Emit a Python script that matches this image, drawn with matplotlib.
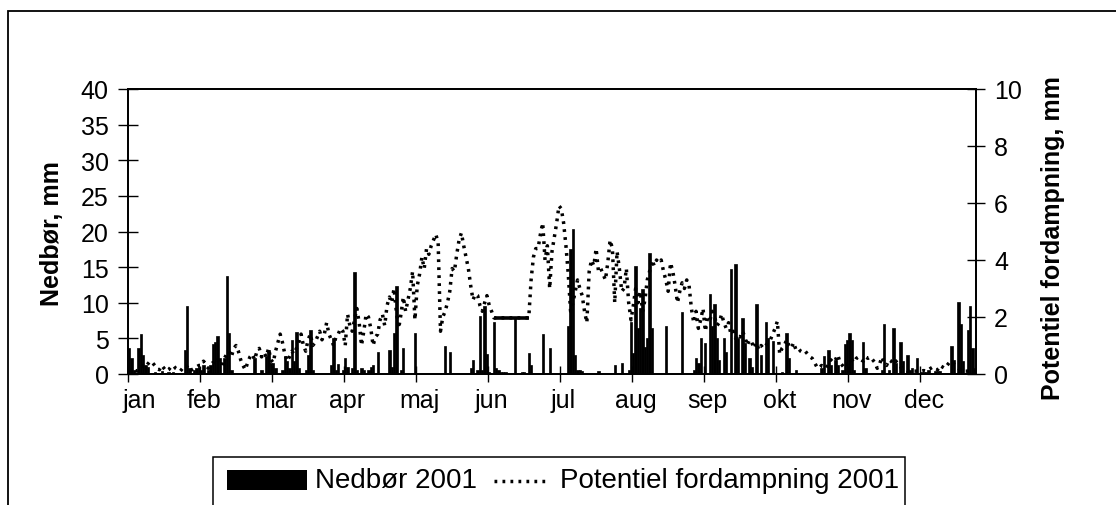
import numpy as np
import matplotlib
matplotlib.use("Agg")
import matplotlib.pyplot as plt
from matplotlib.patches import Rectangle
from matplotlib.lines import Line2D

plt.rcParams["font.family"] = ["Liberation Sans", "DejaVu Sans"]

months = ["jan", "feb", "mar", "apr", "maj", "jun",
          "jul", "aug", "sep", "okt", "nov", "dec"]

# daily precipitation 2001, mm
nedbor_jan = [3.7, 2.2, 0.6, 0, 3.7, 5.6, 2.6, 1.2, 1.0, 0,
              0, 0.3, 0, 0, 0.4, 0, 0, 0.3, 0.2, 0.3,
              0, 0, 0.2, 0, 3.4, 9.5, 0.8, 0, 0.5, 0.8, 1.0]
nedbor_feb = [0.5, 1.3, 0, 0.6, 1.2, 4.2, 4.5, 5.4, 2.2, 0,
              2.2, 13.7, 5.8, 0.5, 0, 0, 0, 0, 0, 0,
              0, 0, 0, 2.2, 0, 0, 0.5, 0]
nedbor_mar = [2.5, 3.4, 1.5, 1.5, 0.8, 0, 0, 0.5, 2.5, 1.8,
              0.8, 4.8, 1.8, 5.9, 0.8, 0, 0, 0.5, 2.7, 6.2,
              0.5, 0, 0, 0, 0, 0, 0, 0, 1.2, 5.1, 0.6]
nedbor_apr = [1.4, 0, 0.5, 2.3, 1.0, 0, 0.8, 14.3, 0.5, 0,
              0.9, 0.5, 0, 0.6, 1.0, 1.2, 0, 3.1, 0, 0,
              0, 0, 3.4, 1.0, 5.8, 12.3, 0, 0.5, 3.7, 0]
nedbor_maj = [0, 0, 0, 5.8, 0, 0, 0, 0, 0, 0,
              0, 0, 0, 0, 0, 0, 3.9, 0, 3.1, 0,
              0, 0, 0, 0, 0, 0, 0, 0.9, 2.0, 0, 0.5]
nedbor_jun = [8.2, 0.5, 9.5, 2.8, 0.3, 0, 7.3, 0.8, 0.5, 0.3,
              0.3, 0.3, 0, 0, 0, 7.9, 0, 0, 0.3, 0.3,
              0, 2.9, 1.3, 0, 0, 0, 0, 5.6, 0, 0]
nedbor_jul = [3.7, 0, 0, 0, 0, 0, 0, 0, 6.8, 17.6,
              20.4, 2.6, 0.6, 0.5, 0.4, 0, 0, 0, 0, 0,
              0, 0.4, 0, 0, 0, 0, 0, 0, 1.2, 0, 0]
nedbor_aug = [1.5, 0, 0, 0.5, 7.3, 3.0, 15.1, 6.5, 9.3, 12.0,
              3.8, 5.0, 17.0, 6.4, 0, 0, 0, 0, 0, 6.8,
              0, 0, 0, 0, 0, 0, 8.7, 0, 0, 0, 0]
nedbor_sep = [0.6, 2.2, 1.5, 5.1, 0, 4.3, 0, 11.2, 6.8, 9.8,
              5.1, 2.0, 0, 5.1, 3.1, 0, 14.8, 0, 15.4, 5.1,
              0, 7.9, 4.3, 0, 2.2, 1.0, 0, 9.8, 0, 2.7]
nedbor_okt = [0, 7.3, 5.0, 0, 4.6, 0, 0, 0, 0.3, 0,
              5.8, 2.2, 0, 0, 0.6, 0, 0, 0, 0, 0,
              0, 0, 0, 0, 0, 0.9, 2.5, 0, 3.4, 1.2, 0]
nedbor_nov = [2.0, 1.2, 0, 0.5, 4.2, 4.8, 5.8, 4.8, 0.6, 0,
              0, 0, 4.5, 0.8, 0, 0, 0, 0, 0, 0,
              0.6, 7.0, 0, 0.6, 0, 6.4, 1.5, 0, 4.5, 1.8]
nedbor_dec = [0, 2.6, 0.5, 0.8, 0, 2.3, 0, 0.3, 0.3, 0.3,
              0.6, 0, 0, 0.4, 0.4, 0.4, 0, 0, 0, 0,
              3.9, 2.0, 0, 10.1, 7.0, 1.8, 0, 6.2, 9.5, 3.7, 0.9]

# daily potential evaporation 2001, mm
fordamp_jan = [0.1, 0.15, 0.2, 0.1, 0.15, 0.2, 0.3, 0.25, 0.35, 0.45,
               0.4, 0.3, 0.2, 0.15, 0.3, 0.2, 0.1, 0.15, 0.25, 0.3,
               0.2, 0.15, 0.1, 0.2, 0.3, 0.25, 0.1, 0.15, 0.2, 0.25, 0.3]
fordamp_feb = [0.3, 0.45, 0.35, 0.2, 0.3, 0.4, 0.35, 0.5, 0.4, 0.3,
               0.55, 0.7, 0.8, 0.6, 0.9, 1.0, 0.8, 0.5, 0.3, 0.15,
               0.4, 0.6, 0.7, 0.5, 0.8, 0.9, 0.6, 0.75]
fordamp_mar = [0.6, 0.9, 0.5, 0.4, 0.8, 1.1, 1.4, 1.1, 0.7, 0.45,
               0.6, 0.8, 0.7, 0.9, 1.1, 1.4, 1.0, 0.8, 1.2, 1.4,
               1.0, 1.1, 1.3, 1.5, 1.2, 1.4, 1.8, 1.4, 1.2, 1.0, 1.3]
fordamp_apr = [1.4, 1.6, 1.5, 1.0, 2.1, 1.7, 1.5, 1.9, 2.3, 1.8,
               1.0, 1.5, 2.1, 2.0, 1.6, 1.0, 1.3, 1.4, 1.9, 2.1,
               1.7, 2.4, 2.7, 2.5, 3.0, 2.2, 1.6, 2.1, 2.7, 2.2]
fordamp_maj = [2.6, 3.0, 3.6, 1.9, 3.1, 3.5, 4.1, 3.7, 4.4, 4.2,
               4.5, 4.7, 4.9, 4.6, 1.5, 2.0, 2.2, 2.5, 2.9, 3.7,
               3.6, 4.2, 4.7, 4.95, 4.5, 4.1, 3.7, 3.1, 2.6, 2.8, 2.75]
fordamp_jun = [2.4, 2.2, 2.5, 2.75, 2.4, 2.2, 1.97, 1.97, 1.97, 1.97,
               1.97, 1.97, 1.97, 1.97, 1.97, 1.97, 1.97, 1.97, 1.97, 1.97,
               1.97, 1.97, 3.3, 4.1, 4.4, 4.4, 4.9, 5.3, 4.0, 4.5]
fordamp_jul = [3.0, 4.3, 4.8, 5.3, 5.9, 5.8, 5.3, 4.5, 3.5, 2.2,
               2.5, 2.9, 3.3, 3.0, 2.75, 2.2, 1.8, 3.6, 4.0, 3.8,
               4.4, 3.6, 3.7, 3.5, 3.3, 3.9, 4.7, 4.4, 2.5, 4.3, 3.7]
fordamp_aug = [2.9, 3.0, 3.7, 2.5, 1.9, 2.4, 3.0, 2.5, 2.9, 2.2,
               2.6, 3.3, 3.6, 4.0, 3.8, 4.0, 3.9, 4.0, 3.6, 3.3,
               2.9, 3.9, 3.6, 3.1, 2.5, 2.9, 3.2, 3.0, 3.3, 3.1, 2.3]
fordamp_sep = [1.8, 2.2, 1.6, 1.9, 2.3, 1.5, 2.0, 1.9, 2.2, 2.0,
               1.7, 1.8, 2.1, 1.8, 1.6, 1.8, 1.4, 1.5, 1.25, 1.4,
               1.3, 1.5, 1.3, 1.0, 1.2, 1.1, 0.9, 1.1, 0.85, 1.0]
fordamp_okt = [0.9, 1.0, 1.1, 1.2, 1.4, 1.6, 1.85, 0.7, 0.9, 1.0,
               1.2, 1.0, 0.9, 1.1, 0.85, 0.9, 0.8, 0.75, 0.8, 0.7,
               0.6, 0.55, 0.4, 0.25, 0.2, 0.3, 0.25, 0.2, 0.35, 0.5, 0.4]
fordamp_nov = [0.5, 0.67, 0.4, 0.3, 0.2, 0.35, 0.45, 0.5, 0.4, 0.55,
               0.6, 0.5, 0.45, 0.6, 0.55, 0.6, 0.5, 0.4, 0.2, 0.35,
               0.6, 0.4, 0.3, 0.5, 0.45, 0.35, 0.46, 0.3, 0.25, 0.2]
fordamp_dec = [0.15, 0.1, 0.1, 0.12, 0.1, 0.1, 0.08, 0.1, 0.12, 0.1,
               0.15, 0.2, 0.25, 0.2, 0.15, 0.3, 0.25, 0.2, 0.3, 0.4,
               0.45, 0.35, 0.3, 0.2, 0.15, 0.1, 0.1, 0.1, 0.12, 0.1, 0.1]

nedbor = np.array(nedbor_jan + nedbor_feb + nedbor_mar + nedbor_apr
                  + nedbor_maj + nedbor_jun + nedbor_jul + nedbor_aug
                  + nedbor_sep + nedbor_okt + nedbor_nov + nedbor_dec)
fordamp = np.array(fordamp_jan + fordamp_feb + fordamp_mar + fordamp_apr
                   + fordamp_maj + fordamp_jun + fordamp_jul + fordamp_aug
                   + fordamp_sep + fordamp_okt + fordamp_nov + fordamp_dec)

W, H = 1116, 506
fig = plt.figure(figsize=(W / 100, H / 100), dpi=100)


def fx(x):
    return x / W


def fy(y):
    return 1 - y / H


DOTS = (0, (0.8, 1.5))

ndays = len(nedbor)
days = np.arange(ndays) + 0.5

ax = fig.add_axes([fx(128), fy(375), fx(976) - fx(128), fy(90) - fy(375)])
ax2 = ax.twinx()

ax.bar(days, nedbor, width=1.0, color="black", edgecolor="black", linewidth=0.5)
ax2.plot(days, fordamp, color="black", lw=2.5, linestyle=DOTS,
         dash_capstyle="butt")

# stretches where the evaporation value is held constant are drawn solid
start = 0
for i in range(1, ndays + 1):
    if i == ndays or fordamp[i] != fordamp[start]:
        if i - start >= 5:
            ax2.plot(days[start:i], fordamp[start:i], color="black", lw=2.6,
                     solid_capstyle="butt")
        start = i

ax.set_xlim(0, ndays)
ax.set_ylim(0, 40)
ax2.set_ylim(0, 10)
ax.set_yticks(np.arange(0, 41, 5))
ax2.set_yticks(np.arange(0, 11, 2))

ax.set_xticks(np.arange(0, ndays, 31))
ax.set_xticklabels([])
label_pos = [5] + [31 * k + 1.5 for k in range(1, 12)]
ax.set_xticks(label_pos, minor=True)
ax.set_xticklabels(months, minor=True)

ax.tick_params(axis="x", which="major", direction="inout", length=11,
               width=1, colors="black")
ax.tick_params(axis="x", which="minor", length=0, labelsize=18, pad=10)
ax.tick_params(axis="y", direction="inout", length=14, width=1,
               labelsize=18, pad=7)
ax2.tick_params(axis="y", direction="inout", length=13, width=1,
                labelsize=18, pad=6.5)

for a in (ax, ax2):
    for s in a.spines.values():
        s.set_linewidth(1.3)
        s.set_color("black")

fig.text(fx(52), fy(234), "Nedbør, mm", rotation=90, ha="center",
         va="center", fontsize=18, fontweight="bold")
fig.text(fx(1053), fy(238), "Potentiel fordampning, mm", rotation=90,
         ha="center", va="center", fontsize=18, fontweight="bold")

# outer chart frame (runs off the right and bottom edges)
fig.add_artist(Rectangle((fx(8), -0.05), 1.1, fy(12) + 0.05,
                         transform=fig.transFigure, fill=False,
                         edgecolor="black", lw=1.3))

# legend
fig.add_artist(Rectangle((fx(213), -0.05), fx(905) - fx(213), fy(458) + 0.05,
                         transform=fig.transFigure, fill=False,
                         edgecolor="black", lw=1.1))
fig.add_artist(Rectangle((fx(227), fy(491)), fx(307) - fx(227), fy(471) - fy(491),
                         transform=fig.transFigure, facecolor="black",
                         edgecolor="none"))
fig.text(fx(315), fy(481), "Nedbør 2001", ha="left", va="center", fontsize=20)
fig.add_artist(Line2D([fx(494), fx(549)], [fy(482), fy(482)],
                      transform=fig.transFigure, color="black", lw=2.5,
                      linestyle=DOTS, dash_capstyle="butt"))
fig.text(fx(560), fy(481), "Potentiel fordampning 2001", ha="left",
         va="center", fontsize=20)

fig.savefig("out.png", dpi=100)
